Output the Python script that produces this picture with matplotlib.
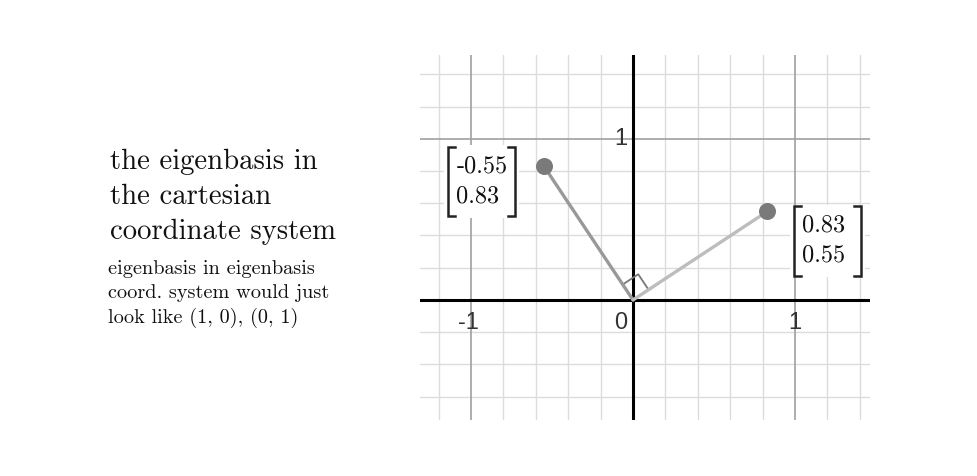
import numpy as np
import matplotlib.pyplot as plt
from matplotlib.transforms import offset_copy

# eigenvectors (cartesian coords)
vec_x = [-0.55, 0.83]
vec_y = [0.83, 0.55]
vec_labels = [['-0.55', '0.83'], ['0.83', '0.55']]

x_ticks = [-1, 0, 1]
y_ticks = [1]

title_txt = 'the eigenbasis in\nthe cartesian\ncoordinate system'
note_txt = 'eigenbasis in eigenbasis\ncoord. system would just\nlook like (1, 0), (0, 1)'

serif = ['cmr10', 'DejaVu Serif']
sans = ['Liberation Sans', 'DejaVu Sans']

fig = plt.figure(figsize=(9.77, 4.76), dpi=100)
fig.patch.set_facecolor('white')

fig.text(110 / 977, 1 - 149 / 476, title_txt, family=serif, fontsize=20.7,
         va='top', ha='left', linespacing=1.41, color='#111111')
fig.text(108 / 977, 1 - 260 / 476, note_txt, family=serif, fontsize=14.6,
         va='top', ha='left', linespacing=1.41, color='#111111')

ax = fig.add_axes([420 / 977, 56 / 476, 450 / 977, 365 / 476])
xmin, xmax = -1.315, 1.463
ymin, ymax = -0.745, 1.52
ax.set_xlim(xmin, xmax)
ax.set_ylim(ymin, ymax)
for s in ax.spines.values():
    s.set_visible(False)
ax.set_xticks([])
ax.set_yticks([])

# grid: minor every 0.2, major every 1
minor = np.arange(-2, 2.01, 0.2)
for g in minor:
    if abs(g - round(g)) < 1e-6:
        continue
    ax.axvline(g, color='#dcdcdc', lw=1.0, zorder=0)
    ax.axhline(g, color='#dcdcdc', lw=1.0, zorder=0)
for g in [-1, 1]:
    ax.axvline(g, color='#a0a0a0', lw=1.2, zorder=0.5)
    ax.axhline(g, color='#a0a0a0', lw=1.2, zorder=0.5)
ax.axvline(0, color='black', lw=2.2, zorder=1)
ax.axhline(0, color='black', lw=2.2, zorder=1)

# tick labels
for t in x_ticks:
    if t == 0:
        tr = offset_copy(ax.transData, fig=fig, x=-6, y=-12, units='dots')
        ax.text(0, 0, '0', transform=tr, ha='right', va='top', family=sans,
                fontsize=17, color='#333333')
        continue
    dx = -3 if t < 0 else 0
    tr = offset_copy(ax.transData, fig=fig, x=dx, y=-12, units='dots')
    ax.text(t, 0, str(t), transform=tr, ha='center', va='top', family=sans,
            fontsize=17, color='#333333')
for t in y_ticks:
    tr = offset_copy(ax.transData, fig=fig, x=-6, y=0, units='dots')
    ax.text(0, t, str(t), transform=tr, ha='right', va='center', family=sans,
            fontsize=17, color='#333333')

# vectors
ax.plot([0, vec_x[0]], [0, vec_y[0]], color='#999999', lw=2.4,
        solid_capstyle='round', zorder=3)
ax.plot([0, vec_x[1]], [0, vec_y[1]], color='#bdbdbd', lw=2.4,
        solid_capstyle='round', zorder=3)
ax.scatter(vec_x, vec_y, s=150, color='#7a7a7a', zorder=4, linewidths=0)

# right angle marker
u1 = np.array([vec_x[0], vec_y[0]])
u2 = np.array([vec_x[1], vec_y[1]])
u1 = u1 / np.linalg.norm(u1) * 0.115
u2 = u2 / np.linalg.norm(u2) * 0.115
sq = np.array([u1, u1 + u2, u2])
ax.plot(sq[:, 0], sq[:, 1], color='#777777', lw=1.3, zorder=2)

# matrix labels
label_off = [(-0.385, -0.095), (0.37, -0.185)]
box_w, box_h = 0.46, 0.45


def draw_matrix(ax, cx, cy, vals):
    x0, x1 = cx - box_w / 2, cx + box_w / 2
    y0, y1 = cy - box_h / 2, cy + box_h / 2
    ax.add_patch(plt.Rectangle((x0, y0), box_w, box_h, facecolor='white',
                               edgecolor='none', zorder=5))
    bl, br = x0 + 0.025, x1 - 0.025
    yb, yt = y0 + 0.01, y1 - 0.01
    serif_len = 0.04
    ax.plot([bl + serif_len, bl, bl, bl + serif_len], [yt, yt, yb, yb],
            color='#222222', lw=1.8, zorder=6, solid_joinstyle='miter')
    ax.plot([br - serif_len, br, br, br - serif_len], [yt, yt, yb, yb],
            color='#222222', lw=1.8, zorder=6, solid_joinstyle='miter')
    ax.text(bl + 0.05, cy + 0.095, vals[0], family=serif, fontsize=17.5,
            ha='left', va='center', zorder=7, color='#111111')
    ax.text(bl + 0.05, cy - 0.09, vals[1], family=serif, fontsize=17.5,
            ha='left', va='center', zorder=7, color='#111111')


for i in range(2):
    draw_matrix(ax, vec_x[i] + label_off[i][0], vec_y[i] + label_off[i][1],
                vec_labels[i])

fig.savefig('out.png', dpi=100, facecolor='white')
